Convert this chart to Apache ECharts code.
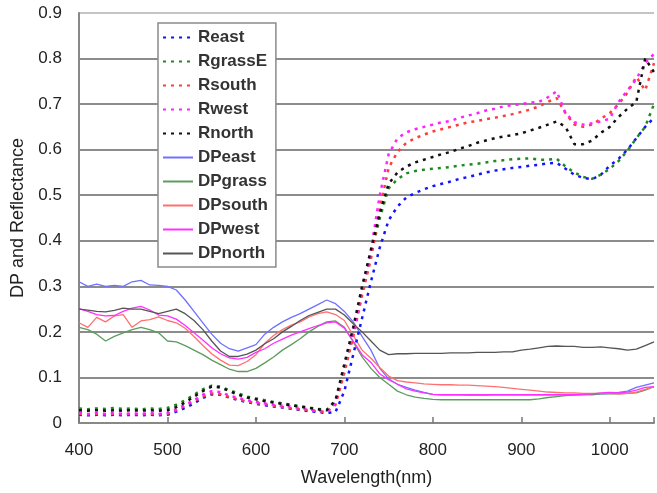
<!DOCTYPE html>
<html><head><meta charset="utf-8">
<script src="https://cdn.jsdelivr.net/npm/echarts@6/dist/echarts.min.js"></script>
<style>html,body{margin:0;padding:0;background:#fff}#c{width:657px;height:493px}</style>
</head><body><div id="c"></div>
<script>
// wavelengths 400..1050 step 10
const wavelengths = [400,410,420,430,440,450,460,470,480,490,500,510,520,530,540,550,560,570,580,590,600,610,620,630,640,650,660,670,680,690,700,710,720,730,740,750,760,770,780,790,800,810,820,830,840,850,860,870,880,890,900,910,920,930,940,950,960,970,980,990,1000,1010,1020,1030,1040,1050];
const xTicks = [400,500,600,700,800,900,1000];
const yTicks = [0,0.1,0.2,0.3,0.4,0.5,0.6,0.7,0.8,0.9];

const Reast = [0.018,0.017,0.018,0.017,0.018,0.017,0.018,0.017,0.018,0.017,0.018,
0.025,0.033,0.043,0.055,0.063,0.062,0.056,0.050,0.046,0.042,
0.039,0.036,0.034,0.031,0.029,0.026,0.024,0.022,0.024,0.070,
0.150,0.230,0.310,0.385,0.445,0.475,0.495,0.505,0.513,0.520,
0.525,0.530,0.536,0.540,0.545,0.550,0.554,0.557,0.560,0.562,
0.565,0.567,0.570,0.571,0.558,0.545,0.538,0.535,0.545,0.565,
0.580,0.600,0.625,0.650,0.670];
const RgrassE = [0.032,0.030,0.032,0.031,0.033,0.031,0.032,0.030,0.032,0.031,0.033,
0.040,0.050,0.062,0.074,0.082,0.080,0.072,0.065,0.058,0.054,
0.050,0.046,0.043,0.040,0.037,0.034,0.031,0.029,0.045,0.115,
0.195,0.285,0.370,0.450,0.515,0.535,0.548,0.553,0.556,0.558,
0.560,0.562,0.565,0.567,0.569,0.572,0.575,0.577,0.579,0.580,
0.581,0.578,0.578,0.580,0.563,0.550,0.540,0.536,0.545,0.558,
0.575,0.598,0.625,0.650,0.700];
const Rsouth = [0.020,0.019,0.020,0.019,0.020,0.019,0.020,0.019,0.020,0.019,0.020,
0.028,0.038,0.048,0.058,0.065,0.063,0.057,0.052,0.047,0.044,
0.041,0.038,0.035,0.032,0.030,0.028,0.026,0.024,0.040,0.110,
0.190,0.280,0.360,0.470,0.560,0.595,0.615,0.625,0.633,0.640,
0.645,0.650,0.655,0.660,0.663,0.667,0.670,0.674,0.678,0.683,
0.688,0.695,0.705,0.713,0.680,0.655,0.650,0.655,0.668,0.680,
0.700,0.725,0.760,0.730,0.790];
const Rwest = [0.022,0.020,0.022,0.020,0.022,0.020,0.021,0.020,0.022,0.020,0.022,
0.030,0.040,0.050,0.062,0.070,0.068,0.060,0.055,0.050,0.046,
0.043,0.040,0.038,0.036,0.033,0.030,0.027,0.025,0.045,0.120,
0.200,0.290,0.380,0.500,0.590,0.625,0.638,0.645,0.650,0.655,
0.660,0.663,0.670,0.675,0.680,0.686,0.690,0.695,0.698,0.700,
0.703,0.705,0.715,0.728,0.680,0.660,0.655,0.658,0.662,0.668,
0.705,0.730,0.755,0.790,0.810];
const Rnorth = [0.028,0.027,0.028,0.027,0.028,0.027,0.028,0.027,0.028,0.027,0.028,
0.035,0.045,0.058,0.070,0.080,0.078,0.070,0.062,0.056,0.052,
0.048,0.045,0.042,0.039,0.036,0.033,0.030,0.028,0.050,0.130,
0.210,0.300,0.380,0.460,0.525,0.550,0.563,0.572,0.578,0.584,
0.590,0.595,0.602,0.608,0.615,0.620,0.625,0.629,0.632,0.636,
0.642,0.648,0.655,0.662,0.650,0.612,0.612,0.620,0.637,0.650,
0.672,0.690,0.705,0.800,0.770];
const DPeast = [0.310,0.300,0.305,0.300,0.302,0.300,0.310,0.313,0.303,0.302,0.300,
0.292,0.270,0.245,0.220,0.195,0.175,0.163,0.158,0.165,0.172,
0.195,0.210,0.222,0.232,0.240,0.250,0.260,0.270,0.262,0.245,
0.222,0.190,0.160,0.120,0.097,0.085,0.078,0.072,0.067,0.063,
0.062,0.062,0.062,0.061,0.061,0.061,0.062,0.062,0.062,0.062,
0.062,0.062,0.062,0.062,0.062,0.063,0.063,0.062,0.064,0.065,
0.067,0.070,0.078,0.083,0.088];
const DPgrass = [0.210,0.205,0.195,0.180,0.190,0.198,0.205,0.210,0.205,0.198,0.180,
0.178,0.170,0.160,0.150,0.138,0.128,0.118,0.113,0.113,0.120,
0.132,0.145,0.160,0.172,0.185,0.200,0.212,0.222,0.224,0.210,
0.178,0.145,0.120,0.100,0.085,0.070,0.062,0.057,0.054,0.052,
0.051,0.051,0.051,0.051,0.051,0.051,0.051,0.051,0.051,0.051,
0.051,0.053,0.056,0.058,0.060,0.061,0.062,0.063,0.064,0.064,
0.064,0.065,0.066,0.072,0.080];
const DPsouth = [0.220,0.210,0.232,0.222,0.235,0.238,0.210,0.224,0.227,0.233,0.225,
0.220,0.208,0.190,0.170,0.152,0.138,0.127,0.126,0.135,0.150,
0.175,0.192,0.205,0.215,0.222,0.233,0.240,0.244,0.238,0.225,
0.192,0.160,0.142,0.122,0.103,0.093,0.090,0.088,0.086,0.085,
0.084,0.084,0.083,0.083,0.082,0.081,0.080,0.078,0.076,0.074,
0.072,0.070,0.068,0.067,0.066,0.066,0.065,0.065,0.065,0.065,
0.064,0.065,0.068,0.074,0.080];
const DPwest = [0.251,0.245,0.238,0.235,0.236,0.245,0.252,0.256,0.248,0.237,0.235,
0.228,0.214,0.198,0.182,0.165,0.152,0.143,0.140,0.144,0.155,
0.163,0.175,0.184,0.193,0.200,0.207,0.214,0.220,0.222,0.208,
0.180,0.150,0.133,0.108,0.095,0.085,0.075,0.070,0.066,0.063,
0.062,0.062,0.062,0.062,0.062,0.062,0.062,0.062,0.062,0.062,
0.062,0.062,0.062,0.062,0.062,0.062,0.063,0.064,0.066,0.067,
0.066,0.068,0.072,0.078,0.080];
const DPnorth = [0.250,0.248,0.245,0.244,0.247,0.252,0.250,0.250,0.245,0.240,0.245,
0.250,0.240,0.225,0.205,0.180,0.158,0.146,0.146,0.151,0.160,
0.174,0.185,0.200,0.212,0.225,0.236,0.243,0.250,0.250,0.237,
0.218,0.200,0.180,0.160,0.150,0.152,0.152,0.153,0.153,0.153,
0.153,0.154,0.154,0.154,0.155,0.155,0.155,0.156,0.156,0.160,
0.162,0.165,0.168,0.169,0.168,0.168,0.166,0.166,0.167,0.165,
0.163,0.160,0.162,0.170,0.178];

const seriesDefs = [
  {name:'Reast', data:Reast, color:'#1414ff', dotted:true},
  {name:'RgrassE', data:RgrassE, color:'#1f8a1f', dotted:true},
  {name:'Rsouth', data:Rsouth, color:'#ff3c3c', dotted:true},
  {name:'Rwest', data:Rwest, color:'#ff22ff', dotted:true},
  {name:'Rnorth', data:Rnorth, color:'#111111', dotted:true},
  {name:'DPeast', data:DPeast, color:'#7070ff', dotted:false},
  {name:'DPgrass', data:DPgrass, color:'#5c9c5c', dotted:false},
  {name:'DPsouth', data:DPsouth, color:'#ff7070', dotted:false},
  {name:'DPwest', data:DPwest, color:'#ff30ff', dotted:false},
  {name:'DPnorth', data:DPnorth, color:'#555555', dotted:false}
];

const font = 'Liberation Sans, Arial, sans-serif';
const gridColors = ['#8c8c8c','#8c8c8c','#8c8c8c','#8c8c8c','#8c8c8c','#8c8c8c','#8c8c8c','#8c8c8c','#8c8c8c','#c4c4c4'];
const chart = echarts.init(document.getElementById('c'));
chart.setOption({
  animation:false,
  backgroundColor:'#fff',
  grid:{left:79, right:0, top:13, bottom:70},
  xAxis:{
    type:'value', min:400, max:1050, interval:100,
    name:'Wavelength(nm)', nameLocation:'middle', nameGap:46,
    nameTextStyle:{fontSize:18, color:'#222', fontFamily:font},
    axisLine:{show:true, lineStyle:{color:'#888', width:2}},
    axisTick:{show:true, inside:true, length:6, lineStyle:{color:'#777', width:1.5}},
    axisLabel:{fontSize:17, color:'#222', margin:19, fontFamily:font,
      formatter:v => xTicks.indexOf(v) >= 0 ? String(v) : ''},
    splitLine:{show:false}
  },
  yAxis:{
    type:'value', min:0, max:0.9, interval:0.1,
    name:'DP and Reflectance', nameLocation:'middle', nameGap:47,
    nameTextStyle:{fontSize:18, color:'#222', fontFamily:font},
    axisLine:{show:true, lineStyle:{color:'#888', width:2}},
    axisTick:{show:false},
    axisLabel:{fontSize:17, color:'#222', margin:17, fontFamily:font,
      formatter:v => { const t = yTicks.find(k => Math.abs(k - v) < 1e-9); return t === undefined ? '' : String(t); }},
    splitLine:{show:true, lineStyle:{color:gridColors, width:2}}
  },
  legend:{
    orient:'vertical', left:158, top:23,
    itemWidth:30, itemHeight:14, itemGap:7,
    padding:[6,8,5,4],
    borderColor:'#8a8a8a', borderWidth:1.5, backgroundColor:'#fff',
    itemStyle:{opacity:0},
    textStyle:{fontSize:17, fontWeight:'bold', color:'#333', fontFamily:font},
    data:seriesDefs.map(s => s.name)
  },
  series:seriesDefs.map(s => ({
    name:s.name, type:'line', symbol:'none', showSymbol:false,
    data:wavelengths.map((w,i) => [w, s.data[i]]),
    lineStyle: s.dotted ? {color:s.color, width:2.5, type:[3,5]} : {color:s.color, width:1.3},
    itemStyle:{color:s.color},
    z: s.dotted ? 3 : 2
  }))
});
</script></body></html>
